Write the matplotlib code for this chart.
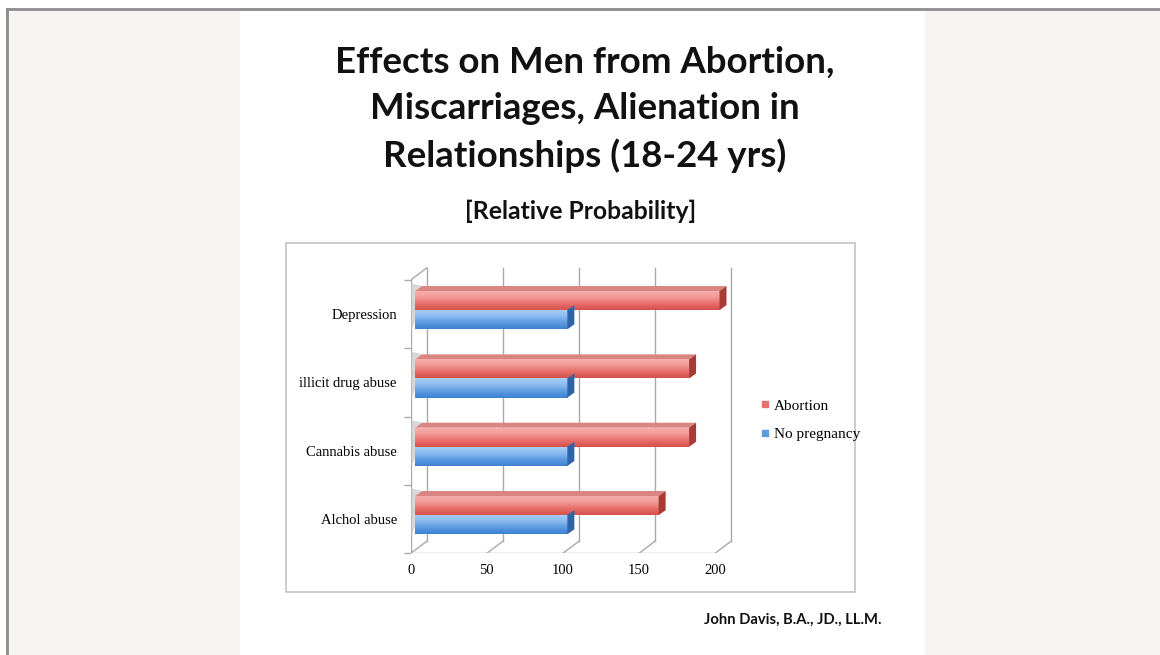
import numpy as np
import matplotlib
matplotlib.use("Agg")
import matplotlib.pyplot as plt
from matplotlib.patches import Rectangle, Polygon
from matplotlib.lines import Line2D
from matplotlib.colors import LinearSegmentedColormap

# Les données du graphique
categories = ["Alchol abuse", "Cannabis abuse", "illicit drug abuse", "Depression"]
abortion = [160, 180, 180, 200]
no_pregnancy = [100, 100, 100, 100]
series_names = ["Abortion", "No pregnancy"]
xticks = [0, 50, 100, 150, 200]

title = "Effects on Men from Abortion,\nMiscarriages, Alienation in\nRelationships (18-24 yrs)"
subtitle = "[Relative Probability]"
author = "John Davis, B.A., JD., LL.M."

W, H = 1160, 655
fig = plt.figure(figsize=(W / 100, H / 100), dpi=100, facecolor="white")


def fx(px):
    return px / W


def fy(py):
    return 1 - py / H


# fond de la diapo
fig.patches.append(Rectangle((fx(7), 0), 1 - fx(7), fy(9), transform=fig.transFigure,
                             facecolor="#f6f5f1", edgecolor="none", zorder=0))
fig.patches.append(Rectangle((fx(240), 0), fx(925) - fx(240), fy(9), transform=fig.transFigure,
                             facecolor="white", edgecolor="none", zorder=1))
fig.lines.append(Line2D([fx(7), 1], [fy(9), fy(9)], transform=fig.transFigure, color="#8c8c8c", lw=2, zorder=2))
fig.lines.append(Line2D([fx(7), fx(7)], [fy(9), 0], transform=fig.transFigure, color="#8c8c8c", lw=2, zorder=2))

# cadre du graphique
fig.patches.append(Rectangle((fx(286), fy(592)), fx(855) - fx(286), fy(243) - fy(592),
                             transform=fig.transFigure, facecolor="white", edgecolor="#c4c4c4",
                             lw=1.2, zorder=2))

# titres
fig.text(fx(585), fy(46), title, ha="center", va="top", fontsize=26.4, family="Lato",
         weight="bold", linespacing=1.47, color="#111111", zorder=5)
fig.text(fx(581), fy(211), subtitle, ha="center", va="center", fontsize=17.8, family="Lato",
         weight="bold", color="#111111", zorder=5)
fig.text(fx(882), fy(620), author, ha="right", va="center", fontsize=10.6, family="Lato",
         weight="bold", color="#111111", zorder=5)

# axes : plan avant 0 -> 200 = px 410.7 -> 715
x0_px, y0_px = 410.7, 553.3
ppx = (715 - 410.7) / 200.0
ppy = (553.3 - 280.0) / 4.0
XMAX, YMAX = 222, 3.8
ax = fig.add_axes([fx(x0_px), fy(y0_px), XMAX * ppx / W, (YMAX + 0.5) * ppy / H])
ax.set_facecolor("none")
ax.set_zorder(3)
for s in ax.spines.values():
    s.set_visible(False)

DX, DY = 16 / ppx, 12 / ppy          # profondeur du mur
SX, SY = 4.5 / ppx, 4 / ppy          # decalage des barres
CX, CY = 7 / ppx, 5 / ppy            # profondeur des barres
BH = 0.28
grid_c = "#a9a9a9"

# grille 3D
for v in xticks:
    ax.plot([v + DX, v + DX], [-0.5 + DY, 3.5 + DY], color=grid_c, lw=1, zorder=1)
    ax.plot([v, v + DX], [-0.5, -0.5 + DY], color=grid_c, lw=1, zorder=1)
ax.plot([0, 0], [-0.5, 3.5], color=grid_c, lw=1, zorder=1)
ax.plot([0, DX], [3.5, 3.5 + DY], color=grid_c, lw=1, zorder=1)
ax.plot([0, xticks[-1]], [-0.5, -0.5], color=grid_c, lw=1, zorder=1)

red_cmap = LinearSegmentedColormap.from_list("r", ["#d6504c", "#e96f6b", "#f39b98", "#f7b2b0"])
blue_cmap = LinearSegmentedColormap.from_list("b", ["#3f80d0", "#5d9be3", "#8cbcf0", "#a9d0f7"])
grad = np.linspace(0, 1, 64).reshape(-1, 1)

y = np.arange(len(categories))


def draw_bars(vals, ypos, cmap, top_c, cap_c):
    bars = ax.barh(ypos, vals, height=BH, left=SX, color="none", edgecolor="none", zorder=3)
    for b, v in zip(bars, vals):
        bx, by, bw, bh = b.get_x(), b.get_y(), b.get_width(), b.get_height()
        im = ax.imshow(grad, extent=[bx, bx + bw, by, by + bh], origin="lower", aspect="auto",
                       cmap=cmap, zorder=3, interpolation="bilinear")
        im.set_clip_path(b)
        # face du dessus
        ax.add_patch(Polygon([(bx, by + bh), (bx + bw, by + bh), (bx + bw + CX, by + bh + CY),
                              (bx + CX, by + bh + CY)], closed=True, facecolor=top_c,
                             edgecolor="none", zorder=2.5))
        # bout de la barre
        ax.add_patch(Polygon([(bx + bw, by), (bx + bw, by + bh), (bx + bw + CX, by + bh + CY),
                              (bx + bw + CX, by + CY)], closed=True, facecolor=cap_c,
                             edgecolor="none", zorder=3.5))
        # ombre sur le mur gauche
        ax.add_patch(Polygon([(0.3, by - 0.02), (bx + CX, by + bh + CY), (0.3, by + bh + CY + 0.04)],
                             closed=True, facecolor="#c8c8c8", edgecolor="none", alpha=0.7, zorder=1.5))
    return bars


draw_bars(no_pregnancy, y + SY - BH / 2, blue_cmap, "#7fb0ea", "#2f65a6")
draw_bars(abortion, y + SY + BH / 2, red_cmap, "#d98683", "#a93b37")

ax.set_xlim(0, XMAX)
ax.set_ylim(-0.5, YMAX)

ax.set_xticks(xticks)
ax.set_xticklabels([str(t) for t in xticks], family="Liberation Serif", fontsize=10.5)
ax.tick_params(axis="x", length=0, pad=8)
ax.set_yticks(y)
ax.set_yticklabels(categories, family="Liberation Serif", fontsize=10.5)
ax.set_yticks(np.arange(-0.5, len(categories)), minor=True)
ax.tick_params(axis="y", which="major", length=0, pad=10)
ax.tick_params(axis="y", which="minor", length=5, color=grid_c, width=1)

handles = [Line2D([], [], marker="s", ls="none", markersize=5, color="#e8706c"),
           Line2D([], [], marker="s", ls="none", markersize=5, color="#5b9be0")]
fig.legend(handles, series_names, loc="center left", bbox_to_anchor=(fx(754), fy(420)),
           frameon=False, prop={"family": "Liberation Serif", "size": 11},
           handlelength=0.6, handletextpad=0.3, labelspacing=0.95, borderaxespad=0)

fig.savefig("out.png", dpi=100, facecolor=fig.get_facecolor())
